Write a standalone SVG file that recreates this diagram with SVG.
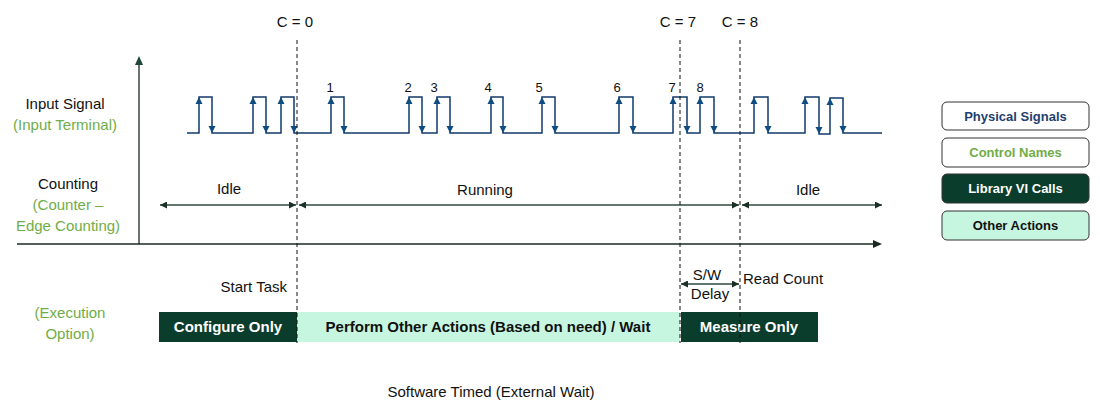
<svg xmlns="http://www.w3.org/2000/svg" xmlns:xlink="http://www.w3.org/1999/xlink" width="1100" height="413" viewBox="0 0 1100 413">
<style>
text{font-family:"Liberation Sans","DejaVu Sans",sans-serif;}
.lbl{font-size:15px;fill:#111;}
.grn{font-size:15px;fill:#70AD47;}
.num{font-size:13px;fill:#111;text-anchor:middle;}
.c{text-anchor:middle;}
.bold{font-weight:bold;}
.dash{stroke:#111;stroke-width:1;stroke-dasharray:4,3;fill:none;}
.axis{stroke:#1a2a22;stroke-width:1.3;fill:none;}
.span{stroke:#2f4a3e;stroke-width:1.3;fill:none;marker-start:url(#ah);marker-end:url(#ah);}
.sig{stroke:#123A6B;stroke-width:1.5;fill:none;}
.edge{fill:#0F4C81;}
.dk{fill:#0B3D2C;}
.mint{fill:#C6F6DF;}
.leg{stroke:#333;stroke-width:1;}
.legt{font-size:13px;font-weight:bold;text-anchor:middle;}
</style>
<defs>
<marker id="ah" viewBox="0 0 10 10" refX="10" refY="5" markerWidth="7" markerHeight="7" markerUnits="userSpaceOnUse" orient="auto-start-reverse">
<path d="M0,0 L10,5 L0,10 Z" fill="#1a2f25"/>
</marker>
<path id="up" d="M0,0 L-3.5,7 L3.5,7 Z"/>
<path id="dn" d="M0,0 L-3.5,-7 L3.5,-7 Z"/>
</defs>

<g id="axes">
<line class="axis" x1="139" y1="244" x2="139" y2="64"/>
<path d="M139,56 L135,65 L143,65 Z" fill="#1f4636"/>
<line class="axis" x1="17" y1="244" x2="874" y2="244"/>
<path d="M882,244 L873,240 L873,248 Z" fill="#1a2a22"/>
</g>

<g id="row-labels">
<text class="lbl c" x="65" y="109">Input Signal</text>
<text class="grn c" x="65" y="130">(Input Terminal)</text>
<text class="lbl c" x="68" y="189">Counting</text>
<text class="grn c" x="68" y="210">(Counter –</text>
<text class="grn c" x="68" y="231">Edge Counting)</text>
<text class="grn c" x="70" y="318">(Execution</text>
<text class="grn c" x="70" y="339">Option)</text>
</g>

<g id="signal">
<path class="sig" d="M187,133 H199 V97 H212 V133 H253 V97 H266 V133 H281 V97 H294 V133 H331 V97 H344 V133 H409 V97 H422 V133 H437 V97 H450 V133 H491 V97 H503 V133 H542 V97 H555 V133 H619 V97 H633 V133 H673 V97 H687 V133 H700 V97 H714 V133 H754 V97 H768 V133 H805 V97 H819 V134 H830 V98 H843 V133 H882"/>
<g class="edge">
<use xlink:href="#up" x="199" y="97"/><use xlink:href="#dn" x="212" y="133"/>
<use xlink:href="#up" x="253" y="97"/><use xlink:href="#dn" x="266" y="133"/>
<use xlink:href="#up" x="281" y="97"/><use xlink:href="#dn" x="294" y="133"/>
<use xlink:href="#up" x="331" y="97"/><use xlink:href="#dn" x="344" y="133"/>
<use xlink:href="#up" x="409" y="97"/><use xlink:href="#dn" x="422" y="133"/>
<use xlink:href="#up" x="437" y="97"/><use xlink:href="#dn" x="450" y="133"/>
<use xlink:href="#up" x="491" y="97"/><use xlink:href="#dn" x="503" y="133"/>
<use xlink:href="#up" x="542" y="97"/><use xlink:href="#dn" x="555" y="133"/>
<use xlink:href="#up" x="619" y="97"/><use xlink:href="#dn" x="633" y="133"/>
<use xlink:href="#up" x="673" y="97"/><use xlink:href="#dn" x="687" y="133"/>
<use xlink:href="#up" x="700" y="97"/><use xlink:href="#dn" x="714" y="133"/>
<use xlink:href="#up" x="754" y="97"/><use xlink:href="#dn" x="768" y="133"/>
<use xlink:href="#up" x="805" y="97"/><use xlink:href="#dn" x="819" y="134"/>
<use xlink:href="#up" x="830" y="98"/><use xlink:href="#dn" x="843" y="133"/>
</g>
<text class="num" x="330" y="92">1</text>
<text class="num" x="408" y="92">2</text>
<text class="num" x="434" y="92">3</text>
<text class="num" x="488" y="92">4</text>
<text class="num" x="539" y="92">5</text>
<text class="num" x="617" y="92">6</text>
<text class="num" x="672" y="92">7</text>
<text class="num" x="700" y="92">8</text>
</g>

<g id="markers-c">
<text class="lbl c" x="295" y="27">C = 0</text>
<text class="lbl c" x="678" y="27">C = 7</text>
<text class="lbl c" x="740" y="27">C = 8</text>
</g>

<g id="counting">
<text class="lbl c" x="229" y="194">Idle</text>
<text class="lbl c" x="485" y="195">Running</text>
<text class="lbl c" x="808" y="195">Idle</text>
</g>

<g id="connectors">
<line class="span" x1="160" y1="205" x2="296" y2="205"/>
<line class="span" x1="299" y1="205" x2="739" y2="205"/>
<line class="span" x1="742" y1="205" x2="882" y2="205"/>
<line class="span" x1="681" y1="284" x2="739" y2="284"/>
</g>

<g id="execution">
<g id="configure-only">
<rect class="dk" x="159" y="312" width="138" height="30"/>
<text class="c bold" x="228" y="332" font-size="15" fill="#fff">Configure Only</text>
</g>
<g id="perform-other">
<rect class="mint" x="297" y="312" width="383" height="30"/>
<text class="c bold" x="488" y="332" font-size="15" fill="#111">Perform Other Actions (Based on need) / Wait</text>
</g>
<g id="measure-only">
<rect class="dk" x="681" y="312" width="137" height="30"/>
<text class="c bold" x="749" y="332" font-size="15" fill="#fff">Measure Only</text>
</g>
<text class="lbl" x="287" y="292" text-anchor="end" font-size="13">Start Task</text>
<text class="lbl" x="743" y="284" font-size="13">Read Count</text>
<text class="lbl c" x="707" y="280" font-size="13">S/W</text>
<text class="lbl c" x="710" y="299" font-size="13">Delay</text>
</g>

<g id="dashed-lines">
<line class="dash" x1="297" y1="40" x2="297" y2="343"/>
<line class="dash" x1="680" y1="40" x2="680" y2="343"/>
<line class="dash" x1="740" y1="40" x2="740" y2="343"/>
</g>

<g id="legend">
<g id="leg-physical">
<rect class="leg" x="942" y="102" width="147" height="28" rx="5" fill="#fff"/>
<text class="legt" x="1015.5" y="120.5" fill="#1F3F6F">Physical Signals</text>
</g>
<g id="leg-control">
<rect class="leg" x="942" y="138" width="147" height="29" rx="5" fill="#fff"/>
<text class="legt" x="1015.5" y="157" fill="#70AD47">Control Names</text>
</g>
<g id="leg-library">
<rect class="leg dk" x="942" y="174" width="147" height="29" rx="5"/>
<text class="legt" x="1015.5" y="193" fill="#fff">Library VI Calls</text>
</g>
<g id="leg-other">
<rect class="leg mint" x="942" y="211" width="147" height="29" rx="5"/>
<text class="legt" x="1015.5" y="230" fill="#111">Other Actions</text>
</g>
</g>

<text class="lbl c" x="491" y="397" font-size="14">Software Timed (External Wait)</text>
</svg>
